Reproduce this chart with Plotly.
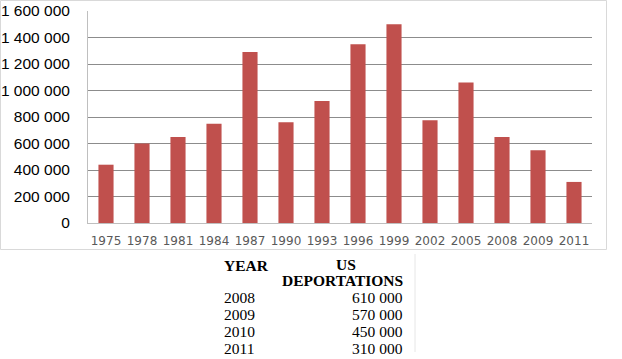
import plotly.graph_objects as go

years = ["1975", "1978", "1981", "1984", "1987", "1990", "1993", "1996", "1999",
         "2002", "2005", "2008", "2009", "2011"]
deportations = [440000, 600000, 650000, 750000, 1290000, 760000, 920000, 1350000,
                1500000, 775000, 1060000, 650000, 550000, 310000]

table_years = ["2008", "2009", "2010", "2011"]
table_values = ["610 000", "570 000", "450 000", "310 000"]

W, H = 622, 359
L, R, T, B = 88, 592, 11, 223


def px(x):
    return (x - L) / (R - L)


def py(y):
    return (B - y) / (B - T)


fig = go.Figure(go.Bar(x=years, y=deportations, marker_color="#C0504D",
                       marker_line_width=0))

shapes = [
    dict(type="rect", xref="paper", yref="paper", x0=px(0.5), x1=px(606.5),
         y0=py(0.5), y1=py(249.5), line=dict(color="#D9D9D9", width=1), layer="below"),
    dict(type="line", xref="paper", yref="paper", x0=px(415), x1=px(415),
         y0=py(254), y1=py(352), line=dict(color="#E6E6E6", width=1)),
]

ann = []
serif = dict(family="Liberation Serif", size=15.5, color="#000000")
ann.append(dict(x=px(222), y=py(265), xref="paper", yref="paper", text="<b>YEAR</b>",
                showarrow=False, xanchor="left", yanchor="middle", font=serif))
ann.append(dict(x=px(346), y=py(264), xref="paper", yref="paper", text="<b>US</b>",
                showarrow=False, xanchor="center", yanchor="middle", font=serif))
ann.append(dict(x=px(405), y=py(280), xref="paper", yref="paper", text="<b>DEPORTATIONS</b>",
                showarrow=False, xanchor="right", yanchor="middle", font=serif))
row_y = [297, 314, 331, 348]
for yr, val, ry in zip(table_years, table_values, row_y):
    ann.append(dict(x=px(222), y=py(ry), xref="paper", yref="paper", text=yr,
                    showarrow=False, xanchor="left", yanchor="middle", font=serif))
    ann.append(dict(x=px(405), y=py(ry), xref="paper", yref="paper", text=val,
                    showarrow=False, xanchor="right", yanchor="middle", font=serif))

fig.update_layout(
    width=W, height=H,
    margin=dict(l=L, r=W - R, t=T, b=H - B, autoexpand=False),
    paper_bgcolor="white", plot_bgcolor="white",
    bargap=0.58,
    separators=". ",
    showlegend=False,
    shapes=shapes,
    annotations=ann,
    xaxis=dict(type="category", showgrid=False, showline=True, linecolor="#BFBFBF",
               linewidth=1, ticks="", ticklabelstandoff=7,
               tickfont=dict(family="DejaVu Sans", size=12, color="#595959")),
    yaxis=dict(range=[0, 1600000], dtick=200000, tickformat=",d", showgrid=True,
               gridcolor="#8C8C8C", gridwidth=1, showline=True, linecolor="#BFBFBF",
               linewidth=1, zeroline=False, ticks="", ticklabelstandoff=14,
               tickfont=dict(family="Liberation Sans", size=15.5, color="#000000")),
)

fig.write_html("out.html", config={"displayModeBar": False},
               post_script="document.body.style.margin='0';document.body.style.padding='0';")
